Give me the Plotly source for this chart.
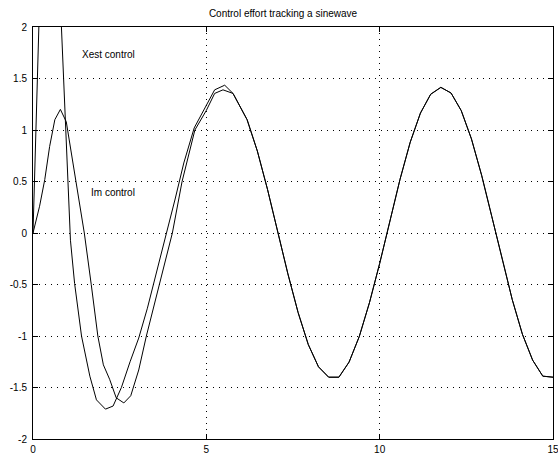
import plotly.graph_objects as go

# ---- data ----
title_text = "Control effort tracking a sinewave"

xest_t = [0.0, 0.43, 1.08, 1.20, 1.40, 1.64, 1.83, 2.09, 2.31, 2.55, 2.80, 3.05, 3.30,
          3.55, 3.85, 4.10, 4.35, 4.65, 5.00, 5.24, 5.53, 5.77, 6.176]
xest_u = [0.0, 5.10, -0.07, -0.49, -1.00, -1.39, -1.62, -1.71, -1.68, -1.50, -1.25, -1.02, -0.73,
          -0.41, 0.00, 0.33, 0.68, 1.02, 1.24, 1.39, 1.435, 1.355, 1.10]

im_t = [0.0, 0.19, 0.34, 0.48, 0.63, 0.79, 0.96, 1.11, 1.30, 1.48, 1.68, 1.87, 2.03, 2.21,
        2.40, 2.62, 2.82, 3.05, 3.27, 3.46, 3.65, 3.84, 4.02, 4.30, 4.67, 5.00, 5.24, 5.48,
        5.77, 6.176]
im_u = [0.0, 0.26, 0.52, 0.84, 1.10, 1.20, 1.08, 0.78, 0.39, 0.0, -0.50, -1.00, -1.28, -1.42,
        -1.60, -1.65, -1.58, -1.33, -1.00, -0.75, -0.50, -0.25, 0.0, 0.50, 1.00, 1.19, 1.355, 1.39,
        1.355, 1.10]

# common steady-state part (both curves coincide)
ss_t = [6.471, 6.765, 7.059, 7.353, 7.647, 7.941, 8.235, 8.529, 8.824, 9.118, 9.412, 9.706,
        10.0, 10.294, 10.588, 10.882, 11.176, 11.471, 11.765, 12.059, 12.353, 12.647, 12.941,
        13.235, 13.529, 13.824, 14.118, 14.412, 14.706, 15.0]
ss_u = [0.796, 0.423, 0.014, -0.397, -0.772, -1.083, -1.299, -1.40, -1.40, -1.253, -1.005, -0.676,
        -0.296, 0.118, 0.522, 0.882, 1.164, 1.347, 1.414, 1.359, 1.188, 0.914, 0.561,
        0.160, -0.253, -0.646, -0.983, -1.234, -1.39, -1.40]

x_ticks = [0, 5, 10, 15]
x_ticklabels = ["0", "5", "10", "15"]
y_ticks = [-2, -1.5, -1, -0.5, 0, 0.5, 1, 1.5, 2]
y_ticklabels = ["-2", "-1.5", "-1", "-0.5", "0", "0.5", "1", "1.5", "2"]

labels = [("Xest control", 1.37, 1.735), ("Im control", 1.615, 0.393)]

FONT = "Liberation Sans, Arial, Helvetica, sans-serif"

fig = go.Figure()
fig.add_trace(go.Scatter(x=xest_t + ss_t, y=xest_u + ss_u, mode="lines",
                         line=dict(color="black", width=1), showlegend=False))
fig.add_trace(go.Scatter(x=im_t + ss_t, y=im_u + ss_u, mode="lines",
                         line=dict(color="black", width=1), showlegend=False))

for txt, lx, ly in labels:
    fig.add_annotation(x=lx, y=ly, text=txt, showarrow=False, xanchor="left",
                       yanchor="middle", font=dict(family=FONT, size=10, color="black"))

axis_common = dict(showline=True, linecolor="black", linewidth=1, mirror="ticks",
                   ticks="inside", ticklen=5, tickcolor="black", tickwidth=1,
                   showgrid=True, gridcolor="black", gridwidth=1, griddash="1px,5px",
                   zeroline=False, automargin=False, ticklabeloverflow="allow",
                   tickfont=dict(family=FONT, size=10, color="black"))

fig.update_xaxes(range=[0, 15], tickvals=x_ticks, ticktext=x_ticklabels,
                 ticklabelstandoff=1, **axis_common)
fig.update_yaxes(range=[-2, 2], tickvals=y_ticks, ticktext=y_ticklabels,
                 ticklabelstandoff=3, **axis_common)

fig.update_layout(
    width=558, height=454,
    margin=dict(l=33, r=5, t=27, b=15, pad=0, autoexpand=False),
    paper_bgcolor="white", plot_bgcolor="white",
    title=dict(text=title_text, x=283 / 558, xref="container", xanchor="center",
               y=1 - 13 / 454, yref="container", yanchor="middle", automargin=False,
               font=dict(family=FONT, size=10, color="black")),
    font=dict(family=FONT, size=10, color="black"),
)

fig.write_html("out.html",
               config={"displayModeBar": False, "staticPlot": True},
               post_script="document.body.style.margin='0';document.body.style.padding='0';"
                           "document.body.style.overflow='hidden';")
